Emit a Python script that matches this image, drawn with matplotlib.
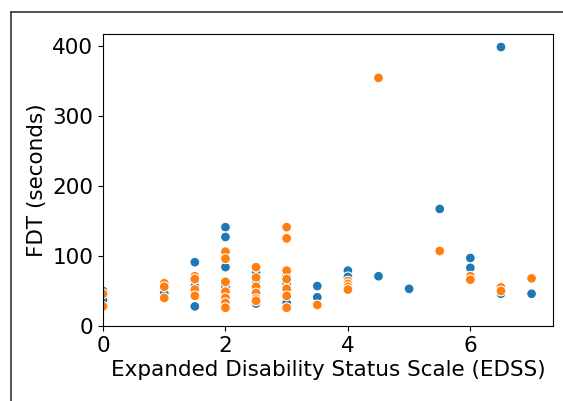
import matplotlib
matplotlib.use("Agg")
import matplotlib.pyplot as plt
from matplotlib.lines import Line2D
import seaborn as sns
import pandas as pd

# EDSS values, FDT values and group for each point
blue_edss = [0, 0, 1, 1.5, 1.5, 1.5, 1.5, 1.5, 2, 2, 2, 2, 2, 2.5, 2.5, 2.5, 2.5, 3, 3, 3, 3.5, 3.5,
             4, 4, 4.5, 5, 5.5, 6, 6, 6.5, 6.5, 7]
blue_fdt = [50, 37, 47, 91, 60, 57, 47, 28, 141, 127, 84, 56, 45, 76, 64, 48, 32, 72, 61, 33, 57, 41,
            79, 70, 71, 53, 167, 97, 83, 398, 46, 46]
orange_edss = [0, 0, 1, 1, 1, 1.5, 1.5, 1.5, 1.5, 2, 2, 2, 2, 2, 2, 2, 2.5, 2.5, 2.5, 2.5, 2.5, 2.5,
               3, 3, 3, 3, 3, 3, 3, 3.5, 4, 4, 4, 4, 4.5, 5.5, 6, 6, 6.5, 6.5, 7]
orange_fdt = [46, 28, 61, 56, 40, 71, 67, 52, 43, 106, 96, 63, 49, 40, 33, 26, 84, 69, 56, 47, 39, 36,
              141, 125, 79, 67, 53, 43, 26, 30, 64, 60, 56, 52, 354, 107, 71, 66, 55, 50, 68]

df = pd.DataFrame({
    "EDSS": blue_edss + orange_edss,
    "FDT": blue_fdt + orange_fdt,
    "group": ["A"] * len(blue_edss) + ["B"] * len(orange_edss),
})

fig = plt.figure(figsize=(5.63, 4.01), dpi=100)
ax = fig.add_axes([103 / 563, 75 / 401, 450 / 563, 292 / 401])
sns.scatterplot(data=df, x="EDSS", y="FDT", hue="group", ax=ax, legend=False,
                palette=["#1f77b4", "#ff7f0e"], s=50, edgecolor="white", linewidth=0.8)
ax.set_xlim(left=0)
ax.set_ylim(bottom=0)
ax.set_xticks([0, 2, 4, 6])
ax.set_yticks([0, 100, 200, 300, 400])
ax.tick_params(labelsize=15.5)
ax.set_xlabel("Expanded Disability Status Scale (EDSS)", fontsize=15.5, labelpad=3)
ax.set_ylabel("FDT (seconds)", fontsize=15.5)

# outer frame (cropped figure border)
fx = 10.5 / 563
fy = 1 - 11.5 / 401
fig.add_artist(Line2D([fx, fx], [0, fy], transform=fig.transFigure, color="#333333", lw=1.2))
fig.add_artist(Line2D([fx, 1], [fy, fy], transform=fig.transFigure, color="#333333", lw=1.2))

fig.savefig("out.png", dpi=100)
